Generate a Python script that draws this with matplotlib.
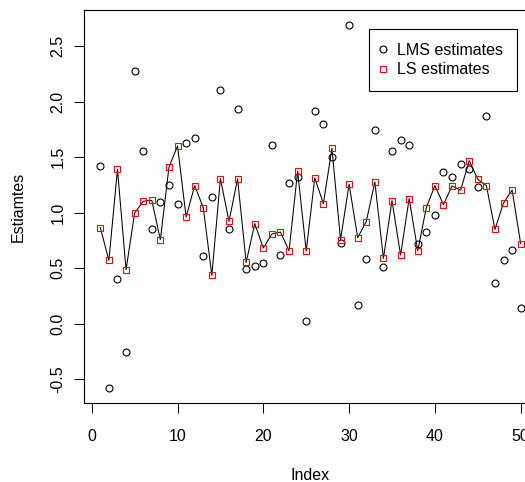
import numpy as np
import matplotlib
matplotlib.use("Agg")
import matplotlib.pyplot as plt

plt.rcParams['font.family'] = ['Liberation Sans', 'DejaVu Sans']

index = np.arange(1, 51)
lms = [1.425, -0.581, 0.404, -0.257, 2.277, 1.554, 0.857, 1.098, 1.248, 1.083,
       1.629, 1.677, 0.608, 1.146, 2.110, 0.857, 1.935, 0.494, 0.524, 0.545,
       1.611, 0.620, 1.268, 1.323, 0.023, 1.917, 1.804, 1.503, 0.725, 2.695,
       0.173, 0.581, 1.749, 0.515, 1.554, 1.659, 1.611, 0.716, 0.830, 0.980,
       1.371, 1.323, 1.437, 1.398, 1.233, 1.869, 0.368, 0.572, 0.665, 0.146]
ls = [0.867, 0.572, 1.392, 0.488, 0.998, 1.104, 1.113, 0.758, 1.410, 1.602,
      0.962, 1.245, 1.047, 0.437, 1.308, 0.923, 1.305, 0.554, 0.903, 0.683,
      0.809, 0.827, 0.659, 1.374, 0.656, 1.314, 1.083, 1.581, 0.758, 1.257,
      0.777, 0.921, 1.278, 0.590, 1.110, 0.620, 1.128, 0.659, 1.047, 1.245,
      1.074, 1.242, 1.203, 1.470, 1.302, 1.245, 0.851, 1.088, 1.205, 0.722]

W, H = 525, 482
fig = plt.figure(figsize=(W / 100, H / 100), dpi=100)
# plot region runs past the right edge of the picture, like the original
ax = fig.add_axes([83.5 / W, 1 - 403 / H, (537.5 - 83.5) / W, 393 / H])

ax.plot(index, lms, 'o', mfc='none', mec='black', ms=5, mew=0.8, label='LMS estimates')
ax.plot(index, ls, '-', color='black', lw=0.75)
ax.plot(index, ls, 's', mfc='none', mec='red', ms=5, mew=0.8, label='LS estimates')

ax.set_xlim(-0.96, 51.96)
ax.set_ylim(-0.712, 2.826)
ax.set_xticks(range(0, 51, 10))
yt = np.arange(-0.5, 2.51, 0.5)
ax.set_yticks(yt)
ax.set_yticklabels(['%.1f' % v for v in yt])

for s in ax.spines.values():
    s.set_linewidth(0.8)
ax.tick_params(length=7, width=0.75, labelsize=11.5, direction='out')
ax.tick_params(axis='x', pad=12)
ax.tick_params(axis='y', pad=6, labelrotation=90)
for t in ax.get_yticklabels():
    t.set_va('center')

ax.set_xlabel('Index', fontsize=11.5, va='center')
ax.xaxis.set_label_coords(0.5, (403 - 475) / 393)
ax.set_ylabel('Estiamtes', fontsize=11.5, va='center')
ax.yaxis.set_label_coords((18.5 - 83.5) / 454, 0.5)

leg = ax.legend(loc='upper left', bbox_to_anchor=(369 / W, 1 - 29 / H),
                bbox_transform=fig.transFigure, fontsize=11.5, fancybox=False,
                edgecolor='black', framealpha=1, borderaxespad=0,
                borderpad=0.85, handlelength=0.1, handletextpad=0.8,
                labelspacing=0.3)
leg.get_frame().set_linewidth(0.8)

fig.savefig('out.png', dpi=100)
